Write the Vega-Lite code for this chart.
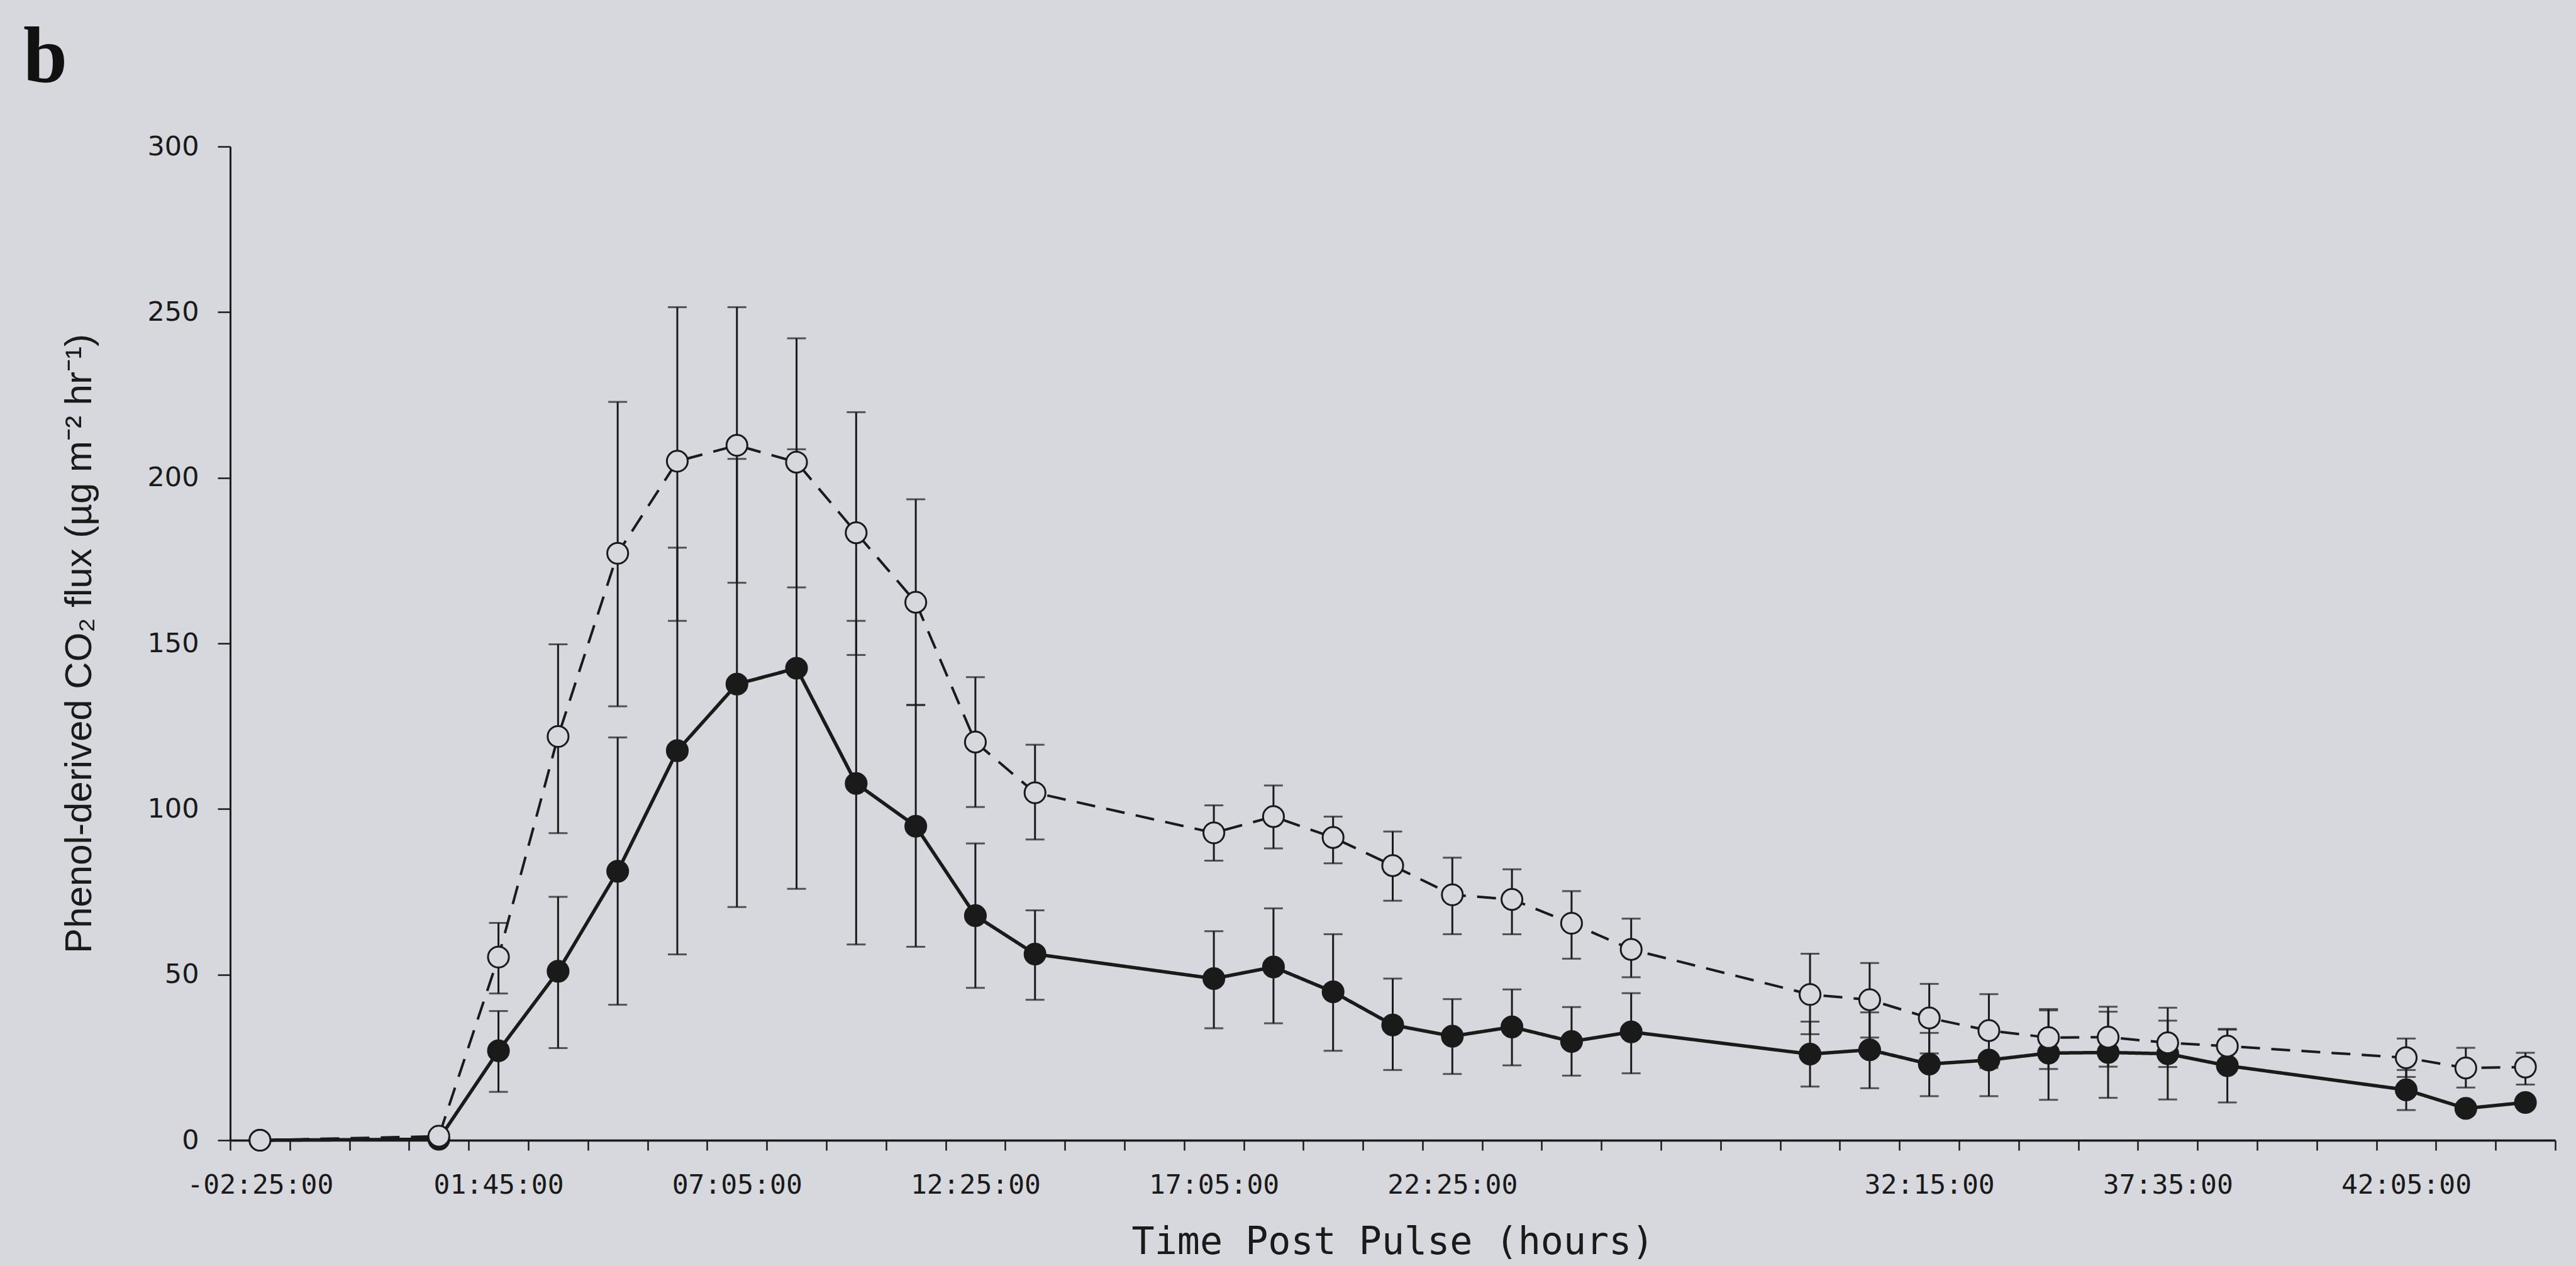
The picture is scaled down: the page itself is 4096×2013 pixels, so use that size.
{
  "$schema": "https://vega.github.io/schema/vega-lite/v6.json",
  "width": 3697,
  "height": 1580,
  "autosize": {"type": "none"},
  "padding": {"left": 366, "top": 233, "right": 33, "bottom": 200},
  "background": "#d6d8dd",
  "config": {"view": {"stroke": null}},
  "title": {"text": "b", "anchor": "start", "frame": "group", "font": "Liberation Serif", "fontWeight": "bold", "fontSize": 126, "color": "#111111", "dx": -329, "dy": 96, "offset": 52, "baseline": "alphabetic"},
  "data": {"values": [
    {"series": "filled", "slot": 0, "time": "-02:25:00", "flux": 0},
    {"series": "filled", "slot": 3, "flux": 0.3},
    {"series": "filled", "slot": 4, "time": "01:45:00", "flux": 27.0, "lo": 14.6, "hi": 39.0},
    {"series": "filled", "slot": 5, "flux": 51.0, "lo": 27.8, "hi": 73.5},
    {"series": "filled", "slot": 6, "flux": 81.2, "lo": 40.9, "hi": 121.6},
    {"series": "filled", "slot": 7, "flux": 117.6, "lo": 56.1, "hi": 178.9},
    {"series": "filled", "slot": 8, "time": "07:05:00", "flux": 137.7, "lo": 70.4, "hi": 205.7},
    {"series": "filled", "slot": 9, "flux": 142.5, "lo": 75.9, "hi": 208.6},
    {"series": "filled", "slot": 10, "flux": 107.7, "lo": 59.1, "hi": 156.8},
    {"series": "filled", "slot": 11, "flux": 94.8, "lo": 58.4, "hi": 131.4},
    {"series": "filled", "slot": 12, "time": "12:25:00", "flux": 67.8, "lo": 46.0, "hi": 89.6},
    {"series": "filled", "slot": 13, "flux": 56.2, "lo": 42.4, "hi": 69.4},
    {"series": "filled", "slot": 16, "time": "17:05:00", "flux": 48.8, "lo": 33.8, "hi": 63.1},
    {"series": "filled", "slot": 17, "flux": 52.3, "lo": 35.3, "hi": 70.0},
    {"series": "filled", "slot": 18, "flux": 44.8, "lo": 27.0, "hi": 62.2},
    {"series": "filled", "slot": 19, "flux": 34.8, "lo": 21.2, "hi": 48.8},
    {"series": "filled", "slot": 20, "time": "22:25:00", "flux": 31.4, "lo": 20.0, "hi": 42.6},
    {"series": "filled", "slot": 21, "flux": 34.2, "lo": 22.6, "hi": 45.5},
    {"series": "filled", "slot": 22, "flux": 29.8, "lo": 19.5, "hi": 40.2},
    {"series": "filled", "slot": 23, "flux": 32.7, "lo": 20.2, "hi": 44.4},
    {"series": "filled", "slot": 26, "flux": 26.0, "lo": 16.2, "hi": 35.8},
    {"series": "filled", "slot": 27, "flux": 27.3, "lo": 15.7, "hi": 38.6},
    {"series": "filled", "slot": 28, "time": "32:15:00", "flux": 23.0, "lo": 13.3, "hi": 32.4},
    {"series": "filled", "slot": 29, "flux": 24.2, "lo": 13.3, "hi": 34.0},
    {"series": "filled", "slot": 30, "flux": 26.3, "lo": 12.2, "hi": 39.2},
    {"series": "filled", "slot": 31, "flux": 26.5, "lo": 12.8, "hi": 38.8},
    {"series": "filled", "slot": 32, "time": "37:35:00", "flux": 26.1, "lo": 12.3, "hi": 40.0},
    {"series": "filled", "slot": 33, "flux": 22.5, "lo": 11.4, "hi": 33.6},
    {"series": "filled", "slot": 36, "time": "42:05:00", "flux": 15.2, "lo": 9.1, "hi": 21.2},
    {"series": "filled", "slot": 37, "flux": 9.6},
    {"series": "filled", "slot": 38, "flux": 11.4},
    {"series": "open", "slot": 0, "time": "-02:25:00", "flux": 0},
    {"series": "open", "slot": 3, "flux": 1.2},
    {"series": "open", "slot": 4, "time": "01:45:00", "flux": 55.3, "lo": 44.3, "hi": 65.6},
    {"series": "open", "slot": 5, "flux": 121.9, "lo": 92.7, "hi": 149.7},
    {"series": "open", "slot": 6, "flux": 177.2, "lo": 131.0, "hi": 222.9},
    {"series": "open", "slot": 7, "flux": 205.0, "lo": 156.8, "hi": 251.5},
    {"series": "open", "slot": 8, "time": "07:05:00", "flux": 209.8, "lo": 168.3, "hi": 251.5},
    {"series": "open", "slot": 9, "flux": 204.7, "lo": 166.9, "hi": 242.1},
    {"series": "open", "slot": 10, "flux": 183.4, "lo": 146.5, "hi": 219.8},
    {"series": "open", "slot": 11, "flux": 162.4, "lo": 131.4, "hi": 193.5},
    {"series": "open", "slot": 12, "time": "12:25:00", "flux": 120.2, "lo": 100.6, "hi": 139.8},
    {"series": "open", "slot": 13, "flux": 104.9, "lo": 90.8, "hi": 119.4},
    {"series": "open", "slot": 16, "time": "17:05:00", "flux": 92.8, "lo": 84.4, "hi": 101.1},
    {"series": "open", "slot": 17, "flux": 97.7, "lo": 88.1, "hi": 107.1},
    {"series": "open", "slot": 18, "flux": 91.4, "lo": 83.6, "hi": 97.7},
    {"series": "open", "slot": 19, "flux": 82.9, "lo": 72.3, "hi": 93.2},
    {"series": "open", "slot": 20, "time": "22:25:00", "flux": 74.1, "lo": 62.2, "hi": 85.3},
    {"series": "open", "slot": 21, "flux": 72.7, "lo": 62.2, "hi": 81.8},
    {"series": "open", "slot": 22, "flux": 65.5, "lo": 54.8, "hi": 75.2},
    {"series": "open", "slot": 23, "flux": 57.6, "lo": 49.2, "hi": 66.9},
    {"series": "open", "slot": 26, "flux": 44.0, "lo": 32.0, "hi": 56.3},
    {"series": "open", "slot": 27, "flux": 42.4, "lo": 31.0, "hi": 53.5},
    {"series": "open", "slot": 28, "time": "32:15:00", "flux": 36.9, "lo": 26.2, "hi": 47.2},
    {"series": "open", "slot": 29, "flux": 33.1, "lo": 21.8, "hi": 44.1},
    {"series": "open", "slot": 30, "flux": 31.0, "lo": 21.5, "hi": 39.6},
    {"series": "open", "slot": 31, "flux": 31.1, "lo": 22.2, "hi": 40.3},
    {"series": "open", "slot": 32, "time": "37:35:00", "flux": 29.4, "lo": 22.1, "hi": 36.1},
    {"series": "open", "slot": 33, "flux": 28.4, "lo": 23.4, "hi": 33.4},
    {"series": "open", "slot": 36, "time": "42:05:00", "flux": 24.9, "lo": 19.1, "hi": 30.7},
    {"series": "open", "slot": 37, "flux": 21.8, "lo": 15.9, "hi": 27.9},
    {"series": "open", "slot": 38, "flux": 22.1, "lo": 16.8, "hi": 26.4}
  ]},
  "resolve": {"axis": {"x": "independent"}},
  "layer": [
    {
      "transform": [{"filter": "datum.lo != null"}],
      "mark": {"type": "errorbar", "color": "#1a1a1a", "thickness": 3, "ticks": {"size": 30, "thickness": 3, "color": "#1a1a1a"}},
      "encoding": {
        "x": {"field": "slot", "type": "quantitative", "scale": {"domain": [-0.5, 38.5], "nice": false, "zero": false},
          "axis": {"orient": "bottom", "values": [-0.5, 0.5, 1.5, 2.5, 3.5, 4.5, 5.5, 6.5, 7.5, 8.5, 9.5, 10.5, 11.5, 12.5, 13.5, 14.5, 15.5, 16.5, 17.5, 18.5, 19.5, 20.5, 21.5, 22.5, 23.5, 24.5, 25.5, 26.5, 27.5, 28.5, 29.5, 30.5, 31.5, 32.5, 33.5, 34.5, 35.5, 36.5, 37.5, 38.5],
            "labels": false, "grid": false, "title": null, "tickSize": 16, "tickWidth": 2.5, "tickColor": "#1a1a1a", "domainColor": "#1a1a1a", "domainWidth": 3.5}},
        "y": {"field": "lo", "type": "quantitative", "scale": {"domain": [0, 300], "nice": false},
          "axis": {"values": [0, 50, 100, 150, 200, 250, 300], "grid": false, "domainColor": "#1a1a1a", "domainWidth": 3, "tickColor": "#1a1a1a", "tickWidth": 2.5, "tickSize": 20, "labelFont": "DejaVu Sans", "labelFontSize": 43, "labelColor": "#1a1a1a", "labelPadding": 30, "titleFont": "Liberation Sans", "titleFontSize": 60, "titleFontWeight": "normal", "titleColor": "#1a1a1a", "titlePadding": 76},
          "title": "Phenol-derived CO₂ flux (µg m⁻² hr⁻¹)"},
        "y2": {"field": "hi"}
      }
    },
    {
      "mark": {"type": "line", "color": "#1a1a1a"},
      "encoding": {
        "x": {"field": "slot", "type": "quantitative",
          "axis": {"orient": "bottom", "values": [0, 4, 8, 12, 16, 20, 28, 32, 36],
            "labelExpr": "['-02:25:00','01:45:00','07:05:00','12:25:00','17:05:00','22:25:00','','32:15:00','37:35:00','42:05:00'][datum.value/4]",
            "domain": false, "ticks": false, "tickSize": 0, "grid": false, "labelFont": "DejaVu Sans Mono", "labelFontSize": 43, "labelColor": "#1a1a1a", "labelPadding": 50, "labelFlush": false, "labelOverlap": false, "labelLimit": 600,
            "title": "Time Post Pulse (hours)", "titleFont": "DejaVu Sans Mono", "titleFontSize": 60, "titleFontWeight": "normal", "titleColor": "#1a1a1a", "titlePadding": 40}},
        "y": {"field": "flux", "type": "quantitative", "title": "Phenol-derived CO₂ flux (µg m⁻² hr⁻¹)"},
        "strokeDash": {"field": "series", "type": "nominal", "scale": {"domain": ["filled", "open"], "range": [[1, 0], [30, 18]]}, "legend": null},
        "strokeWidth": {"field": "series", "type": "nominal", "scale": {"domain": ["filled", "open"], "range": [5.5, 4]}, "legend": null}
      }
    },
    {
      "mark": {"type": "point", "shape": "circle", "size": 1100, "filled": true, "opacity": 1, "stroke": "#1a1a1a", "strokeWidth": 3},
      "encoding": {
        "x": {"field": "slot", "type": "quantitative", "axis": null},
        "y": {"field": "flux", "type": "quantitative", "title": "Phenol-derived CO₂ flux (µg m⁻² hr⁻¹)"},
        "fill": {"field": "series", "type": "nominal", "scale": {"domain": ["filled", "open"], "range": ["#1a1a1a", "#d6d8dd"]}, "legend": null}
      }
    }
  ]
}
